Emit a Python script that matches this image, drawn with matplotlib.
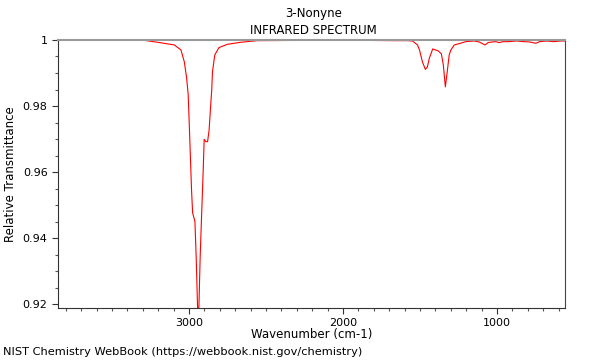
import matplotlib
matplotlib.use("Agg")
import matplotlib.pyplot as plt
from matplotlib.ticker import MultipleLocator, FormatStrFormatter

# wavenumber (cm-1) and relative transmittance
wavenumber = [3839, 3568, 3290, 3202, 3095, 3052, 3030, 3015, 3005, 2998,
              2983, 2976, 2961, 2953, 2944, 2940, 2935, 2927, 2918, 2908,
              2901, 2890, 2879, 2869, 2858, 2852, 2847, 2832, 2805, 2750,
              2665, 2557, 2200, 1900, 1665, 1581, 1548, 1516, 1503, 1484,
              1465, 1452, 1439, 1417, 1400, 1381, 1361, 1348, 1335, 1323,
              1310, 1299, 1277, 1245, 1202, 1148, 1116, 1077, 1058, 1032,
              1006, 987, 961, 923, 871, 826, 787, 748, 723, 677,
              632, 587, 558]
transmittance = [0.9999, 0.9999, 0.9999, 0.9993, 0.9985, 0.9970, 0.9934, 0.9885, 0.9836, 0.9748,
                 0.9545, 0.9476, 0.9450, 0.9343, 0.9192, 0.9170, 0.9194, 0.9343, 0.9465, 0.9596,
                 0.9699, 0.9692, 0.9692, 0.9727, 0.9808, 0.9848, 0.9904, 0.9955, 0.9977, 0.9987,
                 0.9993, 0.9998, 0.9999, 0.9999, 0.9998, 0.9998, 0.9997, 0.9985, 0.9970, 0.9934,
                 0.9911, 0.9918, 0.9945, 0.9973, 0.9970, 0.9967, 0.9958, 0.9924, 0.9858, 0.9903,
                 0.9955, 0.9970, 0.9985, 0.9989, 0.9995, 0.9997, 0.9994, 0.9985, 0.9992, 0.9994,
                 0.9995, 0.9992, 0.9995, 0.9995, 0.9997, 0.9995, 0.9994, 0.9990, 0.9995, 0.9997,
                 0.9995, 0.9997, 0.9997]

fig = plt.figure(figsize=(6, 3.6), dpi=100)
ax = fig.add_axes([0.0967, 0.1444, 0.845, 0.7445])

ax.plot(wavenumber, transmittance, color="#ff0000", lw=0.8)

ax.set_xlim(3850, 558)
ax.set_ylim(0.9188, 1.0)

ax.xaxis.set_major_locator(MultipleLocator(1000))
ax.xaxis.set_minor_locator(MultipleLocator(100))
ax.yaxis.set_major_locator(MultipleLocator(0.02))
ax.yaxis.set_minor_locator(MultipleLocator(0.005))
ax.yaxis.set_major_formatter(FormatStrFormatter("%g"))
ax.tick_params(which="major", length=4, width=0.8, labelsize=8, colors="#333333", labelcolor="black")
ax.tick_params(which="minor", length=2.5, width=0.8, colors="#555555")

ax.spines["top"].set_color("#999999")
ax.spines["top"].set_linewidth(1.5)
ax.spines["right"].set_color("#444444")
ax.spines["left"].set_color("#333333")
ax.spines["bottom"].set_color("#333333")

ax.set_xlabel("Wavenumber (cm-1)", fontsize=8.5, labelpad=0)
ax.set_ylabel("Relative Transmittance", fontsize=8.5)

fig.text(0.522, 0.963, "3-Nonyne", ha="center", va="center", fontsize=8.5)
fig.text(0.522, 0.915, "INFRARED SPECTRUM", ha="center", va="center", fontsize=8.5)
fig.text(0.005, 0.022, "NIST Chemistry WebBook (https://webbook.nist.gov/chemistry)",
         ha="left", va="center", fontsize=8.2)

fig.savefig("out.png", dpi=100)
